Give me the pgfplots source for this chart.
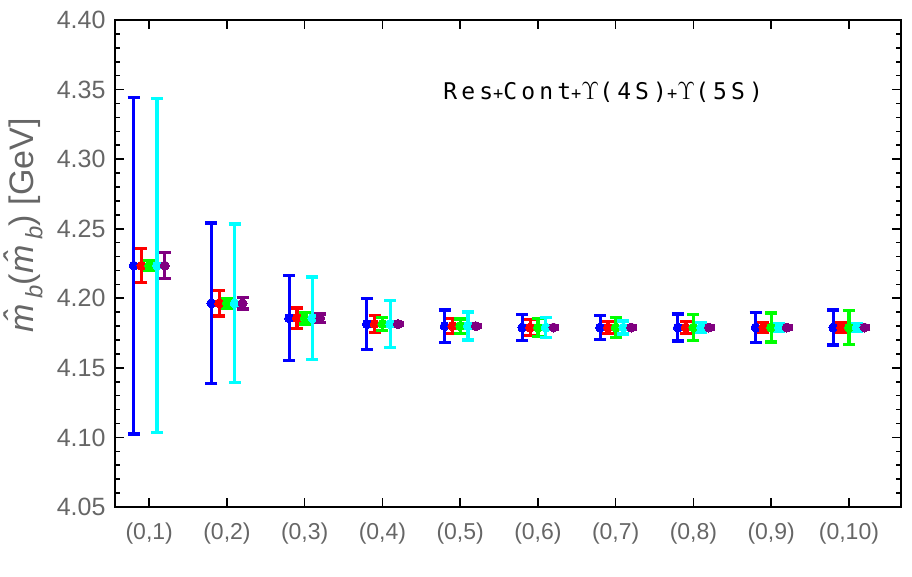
\documentclass[border=0pt]{standalone}
\usepackage{pgfplots}
\pgfplotsset{compat=1.18}
\usepackage{pgfplotstable}
\usepackage{fontspec}
\setmainfont{Liberation Sans}
\newfontfamily\annofont[LetterSpace=18]{DejaVu Sans Mono}
\definecolor{tickgray}{RGB}{102,102,102}
\definecolor{cblue}{RGB}{0,0,255}
\definecolor{cred}{RGB}{255,0,0}
\definecolor{cgreen}{RGB}{0,255,0}
\definecolor{ccyan}{RGB}{0,255,255}
\definecolor{cpurple}{RGB}{128,0,128}

% g = group, c = central value, e = half error
\pgfplotstableread{
g c e
1 4.2235 0.1210
2 4.1964 0.0577
3 4.1857 0.0305
4 4.1815 0.0182
5 4.1800 0.0117
6 4.1790 0.0092
7 4.1790 0.0086
8 4.1790 0.0096
9 4.1790 0.0108
10 4.1790 0.0127
}\blueT
\pgfplotstableread{
g c e
1 4.2235 0.0122
2 4.1964 0.0090
3 4.1857 0.0074
4 4.1815 0.0061
5 4.1800 0.0054
6 4.1790 0.0057
7 4.1790 0.0043
8 4.1790 0.0042
9 4.1790 0.0036
10 4.1790 0.0036
}\redT
\pgfplotstableread{
g c e
1 4.2235 0.0035
2 4.1964 0.0035
3 4.1857 0.0041
4 4.1815 0.0047
5 4.1800 0.0052
6 4.1790 0.0065
7 4.1790 0.0070
8 4.1790 0.0092
9 4.1790 0.0105
10 4.1790 0.0122
}\greenT
\pgfplotstableread{
g c e
1 4.2235 0.1200
2 4.1964 0.0569
3 4.1857 0.0295
4 4.1815 0.0168
5 4.1800 0.0100
6 4.1790 0.0072
7 4.1790 0.0048
8 4.1790 0.0036
9 4.1790 0.0030
10 4.1790 0.0030
}\cyanT
\pgfplotstableread{
g c e
1 4.2235 0.0093
2 4.1964 0.0042
3 4.1857 0.0030
4 4.1815 0.0010
5 4.1800 0.0010
6 4.1790 0.0010
7 4.1790 0.0010
8 4.1790 0.0010
9 4.1790 0.0010
10 4.1790 0.0010
}\purpleT

\pgfplotsset{
  ebar/.style={
    color=#1, only marks, mark=*, mark size=4.5pt,
    mark options={fill=#1, draw=#1, line width=0pt},
    error bars/.cd, y dir=both, y explicit,
    error bar style={line width=3.2pt, color=#1},
    error mark options={rotate=90, mark size=6pt, line width=3.4pt, color=#1}
  }
}

\begin{document}
\begin{tikzpicture}
\begin{axis}[
  scale only axis, width=786pt, height=487pt,
  xmin=0.56, xmax=10.67, ymin=4.05, ymax=4.40,
  xtick={1,2,3,4,5,6,7,8,9,10},
  xticklabels={(0,1),(0,2),(0,3),(0,4),(0,5),(0,6),(0,7),(0,8),(0,9),(0,10)},
  ytick={4.05,4.10,4.15,4.20,4.25,4.30,4.35,4.40},
  minor y tick num=4,
  tick align=inside,
  major tick length=9pt, minor tick length=5pt,
  every tick/.style={black, line width=1.6pt},
  axis line style={line width=2pt},
  ticklabel style={text=tickgray},
  xticklabel style={font=\fontsize{23}{23}\selectfont, yshift=-12pt},
  yticklabel style={font=\fontsize{25}{25}\selectfont, xshift=-6pt,
    /pgf/number format/.cd, fixed, fixed zerofill, precision=2, assume math mode=true},
  clip=false,
]
\addplot+[ebar=cblue] table[x expr=\thisrow{g}-0.2, y=c, y error=e] {\blueT};
\addplot+[ebar=cred] table[x expr=\thisrow{g}-0.1, y=c, y error=e] {\redT};
\addplot+[ebar=cgreen] table[x expr=\thisrow{g}, y=c, y error=e] {\greenT};
\addplot+[ebar=ccyan] table[x expr=\thisrow{g}+0.1, y=c, y error=e] {\cyanT};
\addplot+[ebar=cpurple] table[x expr=\thisrow{g}+0.2, y=c, y error=e] {\purpleT};

\node[font=\annofont\fontsize{23}{23}\selectfont, anchor=west, inner sep=0pt] at (axis cs:4.78,4.348)
  {Res{\fontsize{17}{17}\selectfont+}Cont{\fontsize{17}{17}\selectfont+}\(\Upsilon\)(4S){\fontsize{17}{17}\selectfont+}\(\Upsilon\)(5S)};

\node[rotate=90, font=\fontsize{34}{34}\selectfont, text=tickgray, anchor=center] at (axis description cs:-0.117,0.578)
  {\textit{\^m}\textsubscript{\textit{b}}(\textit{\^m}\textsubscript{\textit{b}}) [GeV]};

\coordinate (sw) at (rel axis cs:0,0);
\end{axis}
\pgfresetboundingbox
\path ([shift={(-115pt,-70pt)}]sw) rectangle ([shift={(797pt,507pt)}]sw);
\end{tikzpicture}
\end{document}
